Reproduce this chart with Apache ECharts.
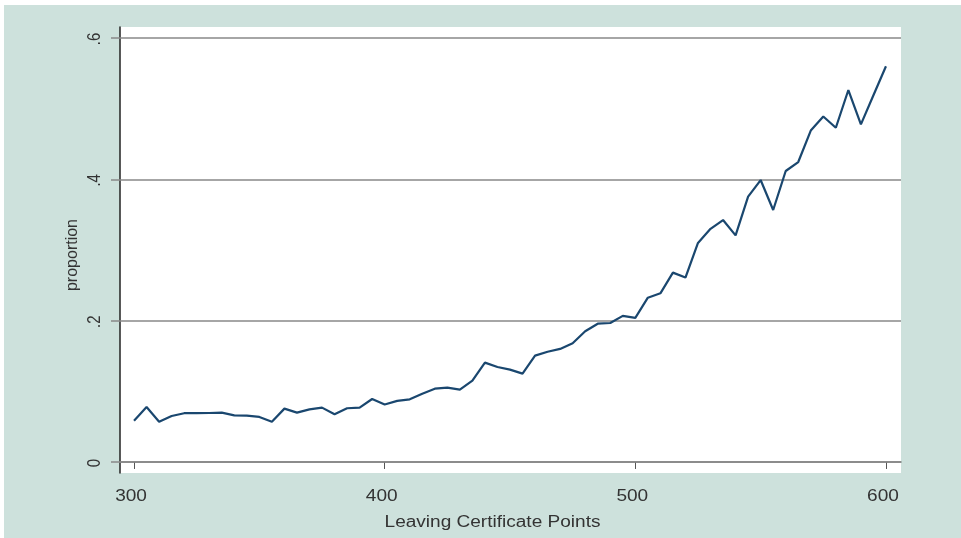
<!DOCTYPE html>
<html><head><meta charset="utf-8">
<script src="https://cdn.jsdelivr.net/npm/echarts@6/dist/echarts.min.js"></script>
<style>html,body{margin:0;padding:0;background:#fff;}#c{position:absolute;left:4px;top:5px;width:957px;height:533px;}</style>
</head><body><div id="c"></div>
<script>
const points = [300,305,310,315,320,325,330,335,340,345,350,355,360,365,370,375,380,385,390,395,400,405,410,415,420,425,430,435,440,445,450,455,460,465,470,475,480,485,490,495,500,505,510,515,520,525,530,535,540,545,550,555,560,565,570,575,580,585,590,595,600];
const proportion = [0.0585,0.0778,0.057,0.065,0.069,0.069,0.0693,0.0698,0.066,0.0655,0.0637,0.057,0.0755,0.0698,0.0745,0.0769,0.0675,0.076,0.0769,0.0891,0.0813,0.0865,0.0887,0.0967,0.1037,0.1052,0.1024,0.1151,0.1406,0.1344,0.1307,0.125,0.1505,0.156,0.160,0.168,0.185,0.1957,0.1967,0.2068,0.204,0.2325,0.2387,0.268,0.261,0.31,0.330,0.3424,0.3207,0.3755,0.399,0.3566,0.4118,0.4245,0.469,0.489,0.473,0.5264,0.4778,0.519,0.56];
const xTicks = [300,400,500,600];
const xTickLabels = ['300','400','500','600'];
const yTicks = [0,0.2,0.4,0.6];
const yTickLabels = ['0','.2','.4','.6'];
const xTitle = 'Leaving Certificate Points';
const yTitle = 'proportion';

const chart = echarts.init(document.getElementById('c'));
const font = '"Liberation Sans", Arial, Helvetica, sans-serif';
const textColor = '#333';
const stretch = 1.19;
const yMin = -0.0156, yMax = 0.6156, xMin = 294.4, xMax = 606;
chart.setOption({
  backgroundColor: '#cde1dc',
  animation: false,
  grid: {left:116, top:22, right:60, bottom:65, show:true, backgroundColor:'#ffffff', borderWidth:0},
  xAxis: {
    type:'value', min:xMin, max:xMax,
    axisLine:{show:true, lineStyle:{color:'#777', width:1.5}},
    axisTick:{show:true, length:7, customValues:xTicks, lineStyle:{color:'#555', width:1}},
    axisLabel:{show:false},
    splitLine:{show:false}
  },
  yAxis: {
    type:'value', min:yMin, max:yMax,
    axisLine:{show:true, onZero:false, lineStyle:{color:'#222', width:1.5}},
    axisTick:{show:true, length:9, customValues:yTicks, lineStyle:{color:'#888', width:1.5}},
    axisLabel:{show:false},
    splitLine:{show:false}
  },
  series: [
    {type:'line', data:[], silent:true, z:1,
     markLine:{silent:true, symbol:'none', label:{show:false}, lineStyle:{color:'#888', width:1.5, type:'solid'},
       data: yTicks.map(v => ({yAxis:v}))}},
    {type:'line', z:5, data: points.map((p,i)=>[p, proportion[i]]), showSymbol:false, symbol:'none',
     lineStyle:{color:'#1a476f', width:2.2}}
  ]
});

// Axis texts placed through the library's own scales
const [axisLeft, axisBottom] = chart.convertToPixel({gridIndex:0}, [xMin, yMin]);
const [axisRight, axisTop] = chart.convertToPixel({gridIndex:0}, [xMax, yMax]);
const elements = [];
xTicks.forEach((v, i) => {
  const px = chart.convertToPixel({xAxisIndex:0}, v);
  elements.push({type:'text', x:px - 3, y:axisBottom + 24, scaleX:stretch, silent:true,
    style:{text:xTickLabels[i], font:'16px ' + font, fill:textColor, align:'center', verticalAlign:'middle'}});
});
yTicks.forEach((v, i) => {
  const py = chart.convertToPixel({yAxisIndex:0}, v);
  elements.push({type:'text', x:axisLeft - 25, y:py + 1, rotation:Math.PI/2, scaleY:stretch, silent:true,
    style:{text:yTickLabels[i], font:'15px ' + font, fill:textColor, align:'center', verticalAlign:'middle'}});
});
elements.push({type:'text', x:(axisLeft + axisRight)/2 - 18, y:axisBottom + 50, scaleX:stretch, silent:true,
  style:{text:xTitle, font:'16px ' + font, fill:textColor, align:'center', verticalAlign:'middle'}});
elements.push({type:'text', x:axisLeft - 47, y:(axisTop + axisBottom)/2 + 5, rotation:Math.PI/2, silent:true,
  style:{text:yTitle, font:'16px ' + font, fill:textColor, align:'center', verticalAlign:'middle'}});
chart.setOption({graphic:{elements}});
</script></body></html>
